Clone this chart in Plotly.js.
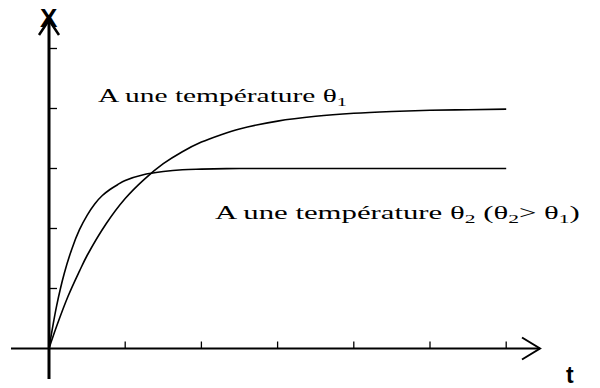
<!DOCTYPE html>
<html>
<head>
<meta charset="utf-8">
<script src="https://cdn.plot.ly/plotly-3.0.1.min.js"></script>
<style>html,body{margin:0;padding:0;background:#fff;}#chart{width:600px;height:388px;}</style>
</head>
<body>
<div id="chart"></div>
<script>
// Curve at temperature θ1 (slower, higher plateau)
const t1 = [0, 0.1, 0.25, 0.4, 0.5, 0.75, 1, 1.25, 1.5, 1.75, 2, 2.25, 2.5, 3, 3.5, 4, 4.5, 5, 5.5, 6];
const x1 = [0, 0.37, 0.87, 1.29, 1.55, 2.08, 2.50, 2.82, 3.08, 3.28, 3.44, 3.56, 3.66, 3.79, 3.87, 3.92, 3.95, 3.97, 3.98, 3.99];
// Curve at temperature θ2 (faster, lower plateau)
const t2 = [0, 0.1, 0.2, 0.3, 0.4, 0.5, 0.6, 0.7, 0.8, 0.9, 1.0, 1.25, 1.5, 1.75, 2, 2.5, 3, 4, 5, 6];
const x2 = [0, 0.71, 1.25, 1.66, 1.98, 2.22, 2.41, 2.55, 2.65, 2.73, 2.80, 2.90, 2.95, 2.98, 2.99, 3.00, 3.00, 3.00, 3.00, 3.00];
// Axis tick positions
const tTicks = [1, 2, 3, 4, 5, 6];
const xTicks = [1, 2, 3, 4, 5];
const label1 = "A une température θ<sub>1</sub>";
const label2 = "A une température θ<sub>2</sub> (θ<sub>2</sub>> θ<sub>1</sub>)";

const pxPerT = 76.2, pxPerX = 60;
const tRange = [-49 / pxPerT, (600 - 49) / pxPerT];
const xRange = [-(388 - 348.5) / pxPerX, 348.5 / pxPerX];
const dt = 1 / pxPerT, dx = 1 / pxPerX;

const lineStyle = {color: '#000', width: 1.6, shape: 'spline', smoothing: 1};
const traces = [
  {x: t1, y: x1, mode: 'lines', line: lineStyle, hoverinfo: 'skip'},
  {x: t2, y: x2, mode: 'lines', line: lineStyle, hoverinfo: 'skip'}
];

const shapes = [];
shapes.push({type: 'line', x0: -38 * dt, x1: 491 * dt, y0: 0, y1: 0, line: {color: '#000', width: 2}});
shapes.push({type: 'line', x0: 0, x1: 0, y0: -30.5 * dx, y1: 328.5 * dx, line: {color: '#000', width: 3}});
const tEnd = 491 * dt;
shapes.push({type: 'path', path: `M ${tEnd - 18 * dt},${11 * dx} L ${tEnd},0 L ${tEnd - 18 * dt},${-11 * dx}`, line: {color: '#000', width: 2}});
const xEnd = 328.5 * dx;
shapes.push({type: 'path', path: `M ${-10 * dt},${xEnd - 15 * dx} L 0,${xEnd} L ${10 * dt},${xEnd - 15 * dx}`, line: {color: '#000', width: 2.5}});
tTicks.forEach(v => shapes.push({type: 'line', x0: v, x1: v, y0: 0, y1: 7 * dx, line: {color: '#000', width: 1.3}}));
xTicks.forEach(v => shapes.push({type: 'line', x0: 0, x1: 8 * dt, y0: v, y1: v, line: {color: '#000', width: 1.3}}));

const serif = '"Times New Roman", "Liberation Serif", "DejaVu Serif", serif';
const sans = 'Arial, "Liberation Sans", sans-serif';
const annotations = [
  {x: 0, y: 328.5 * dx, text: '<b>X</b>', showarrow: false, xanchor: 'center', yanchor: 'middle', yshift: 2,
   font: {family: sans, size: 26, color: '#000'}},
  {x: 521 * dt, y: -26 * dx, text: '<b>t</b>', showarrow: false, xanchor: 'center', yanchor: 'middle',
   font: {family: sans, size: 23, color: '#000'}},
  {x: 47 * dt, y: 251.5 * dx, text: label1, showarrow: false, xanchor: 'left', yanchor: 'middle',
   font: {family: serif, size: 19, color: '#000'}},
  {x: 164 * dt, y: 134.5 * dx, text: label2, showarrow: false, xanchor: 'left', yanchor: 'middle',
   font: {family: serif, size: 19, color: '#000'}}
];

const layout = {
  width: 600, height: 388,
  margin: {l: 0, r: 0, t: 0, b: 0, pad: 0},
  paper_bgcolor: '#fff', plot_bgcolor: '#fff',
  showlegend: false,
  xaxis: {range: tRange, visible: false, fixedrange: true},
  yaxis: {range: xRange, visible: false, fixedrange: true},
  shapes: shapes,
  annotations: annotations
};

// the reference lettering is horizontally stretched
const stretch = [null, null, 1.55, 1.62];
Plotly.newPlot('chart', traces, layout, {staticPlot: true, displayModeBar: false}).then(gd => {
  const texts = gd.querySelectorAll('.annotation-text');
  texts.forEach((el, i) => {
    if (stretch[i]) {
      el.style.transformBox = 'fill-box';
      el.style.transformOrigin = '0% 50%';
      el.style.transform = `scaleX(${stretch[i]})`;
    }
  });
});
</script>
</body>
</html>
